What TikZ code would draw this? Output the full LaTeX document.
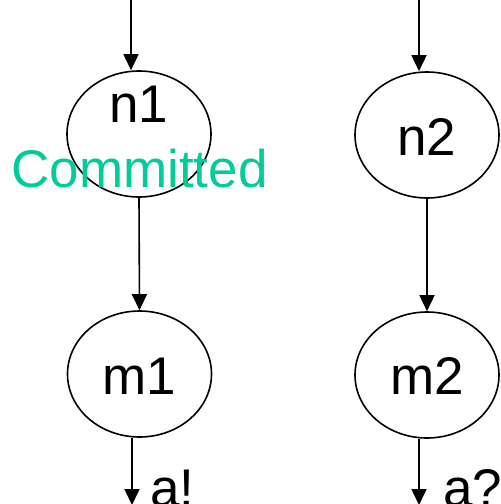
\documentclass[tikz,border=0pt]{standalone}
\usepackage{fontspec}
\setmainfont{Liberation Sans}
\usetikzlibrary{shapes.geometric,arrows.meta}
\definecolor{commitgreen}{RGB}{0,204,153}
\tikzset{
  loc/.style={ellipse, draw, line width=1.6pt, minimum width=144pt, minimum height=126pt, inner sep=0pt},
  lbl/.style={font=\fontsize{53}{60}\selectfont, inner sep=0pt, anchor=base},
  edge/.style={line width=1.6pt, -{Triangle[width=15pt,length=16pt]}}
}
\begin{document}
\begin{tikzpicture}[x=1pt,y=-1pt]
  \useasboundingbox (0,0) rectangle (501,504);
  % locations of the two automata
  \node[loc] (n1) at (139,134) {};
  \node[loc] (n2) at (427,135) {};
  \node[loc] (m1) at (139.5,374) {};
  \node[loc] (m2) at (427,375) {};
  % location names
  \node[lbl] (n1t) at (139,122) {n1};
  \node[lbl, text=commitgreen] (n1c) at (139.5,187) {Committed};
  \node[lbl] (n2t) at (427,155) {n2};
  \node[lbl] (m1t) at (139.5,394) {m1};
  \node[lbl] (m2t) at (427,394) {m2};
  % initial and outgoing edge ends
  \coordinate (in1) at (131,0);
  \coordinate (in2) at (419,0);
  \coordinate (out1) at (132,505);
  \coordinate (out2) at (419,505);
  % edges
  \draw[edge] (in1) -- (n1.north -| in1);
  \draw[edge] (in2) -- (n2.north -| in2);
  \draw[edge] (n1.south) -- (m1.north);
  \draw[edge] (n2.south) -- (m2.north);
  \draw[edge] (m1.south -| out1) -- (out1);
  \draw[edge] (m2.south -| out2) -- (out2);
  % synchronisation labels
  \node[lbl, anchor=base west] (a1) at (150,506) {a!};
  \node[lbl, anchor=base west] (a2) at (443,506) {a?};
\end{tikzpicture}
\end{document}
